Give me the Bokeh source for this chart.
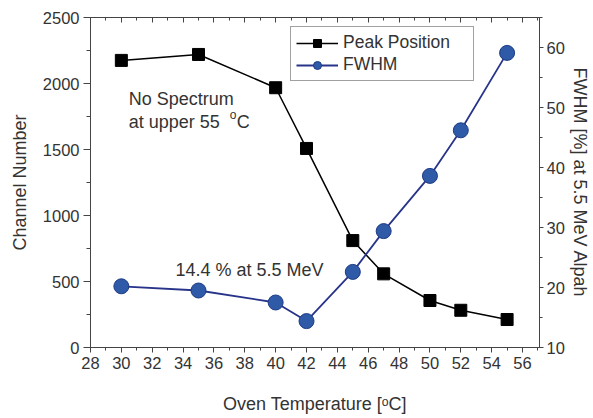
from bokeh.plotting import figure
from bokeh.models import Range1d, LinearAxis, FixedTicker, Legend, LegendItem, Label
from bokeh.embed import file_html
from bokeh.resources import INLINE

# ---- data ----
temperature = [30, 35, 40, 42, 45, 47, 50, 52, 55]
peak_position = [2175, 2220, 1968, 1508, 810, 558, 356, 282, 212]
fwhm = [20.2, 19.5, 17.5, 14.4, 22.6, 29.4, 38.6, 46.2, 59.1]

x_major = list(range(28, 57, 2))
x_minor = list(range(28, 58))
left_major = [0, 500, 1000, 1500, 2000, 2500]
left_minor = list(range(0, 2501, 250))
right_major = [10, 20, 30, 40, 50, 60]
right_minor = list(range(10, 66, 5))

FONT = "Liberation Sans"
TXT = "#333333"
AX = "#444444"

p = figure(width=592, height=416, x_range=Range1d(28, 57.1), y_range=Range1d(0, 2500),
           output_backend="svg", toolbar_location=None,
           min_border_left=90, min_border_right=53, min_border_top=17, min_border_bottom=69)
p.extra_y_ranges = {"fwhm": Range1d(10, 65)}
p.xgrid.visible = False
p.ygrid.visible = False
p.outline_line_color = AX
p.background_fill_color = "white"


def style(ax, tick_out=5, minor_out=3):
    ax.axis_line_color = AX
    ax.major_tick_line_color = AX
    ax.minor_tick_line_color = AX
    ax.major_tick_out = tick_out
    ax.major_tick_in = 0
    ax.minor_tick_out = minor_out
    ax.minor_tick_in = 0
    ax.major_label_text_font = FONT
    ax.major_label_text_font_size = "16.5px"
    ax.major_label_text_color = TXT
    ax.axis_label_text_font = FONT
    ax.axis_label_text_font_size = "18px"
    ax.axis_label_text_font_style = "normal"
    ax.axis_label_text_color = TXT


xa = p.xaxis[0]
xa.ticker = FixedTicker(ticks=x_major, minor_ticks=x_minor)
style(xa, 5, 3)
xa.axis_label = "Oven Temperature [ᵒC]"
xa.major_label_standoff = 4
xa.axis_label_standoff = 22

ya = p.yaxis[0]
ya.ticker = FixedTicker(ticks=left_major, minor_ticks=left_minor)
style(ya, 7, 4)
ya.axis_label = "Channel Number"
ya.major_label_standoff = 4
ya.axis_label_standoff = 10

ra = LinearAxis(y_range_name="fwhm", ticker=FixedTicker(ticks=right_major, minor_ticks=right_minor))
style(ra, 4, 3)
ra.axis_label = "FWHM [%] at 5.5 MeV Alpah"
ra.major_label_standoff = 3
ra.axis_label_standoff = 2
p.add_layout(ra, "right")

ta = LinearAxis(ticker=FixedTicker(ticks=x_major, minor_ticks=x_minor))
style(ta, 0, 0)
ta.major_tick_in = 5
ta.minor_tick_in = 3
ta.major_label_text_font_size = "1px"
ta.major_label_text_color = None
ta.major_label_standoff = 0
p.add_layout(ta, "above")

l1 = p.line(temperature, peak_position, line_color="black", line_width=1.5)
s1 = p.scatter(temperature, peak_position, marker="square", size=12,
               fill_color="black", line_color="black")
l2 = p.line(temperature, fwhm, y_range_name="fwhm", line_color="#27348a", line_width=1.8)
s2 = p.scatter(temperature, fwhm, y_range_name="fwhm", marker="circle", size=15,
               fill_color="#2f5aa8", line_color="#1d3a84", line_width=1)

legend = Legend(items=[LegendItem(label="Peak Position", renderers=[l1, s1]),
                       LegendItem(label="FWHM", renderers=[l2, s2])],
                location=(200, 266), margin=0, padding=5, spacing=1,
                glyph_width=42, glyph_height=20, label_height=20, label_width=125,
                label_standoff=5,
                label_text_font=FONT, label_text_font_size="17.5px", label_text_color=TXT,
                border_line_color=AX, border_line_width=1, background_fill_color="white")
p.add_layout(legend)

ann = dict(text_font=FONT, text_color=TXT, text_baseline="alphabetic", text_align="left")
p.add_layout(Label(x=30.48, y=1880, text="No Spectrum", text_font_size="18px", **ann))
p.add_layout(Label(x=30.48, y=1708, text="at upper 55", text_font_size="18px", **ann))
p.add_layout(Label(x=30.48, y=1708, x_offset=101, y_offset=7, text="o", text_font_size="12px", **ann))
p.add_layout(Label(x=30.48, y=1708, x_offset=108, text="C", text_font_size="18px", **ann))
p.add_layout(Label(x=33.51, y=590, text="14.4 % at 5.5 MeV", text_font_size="18px", **ann))

open("out.html", "w").write(file_html(p, INLINE))
